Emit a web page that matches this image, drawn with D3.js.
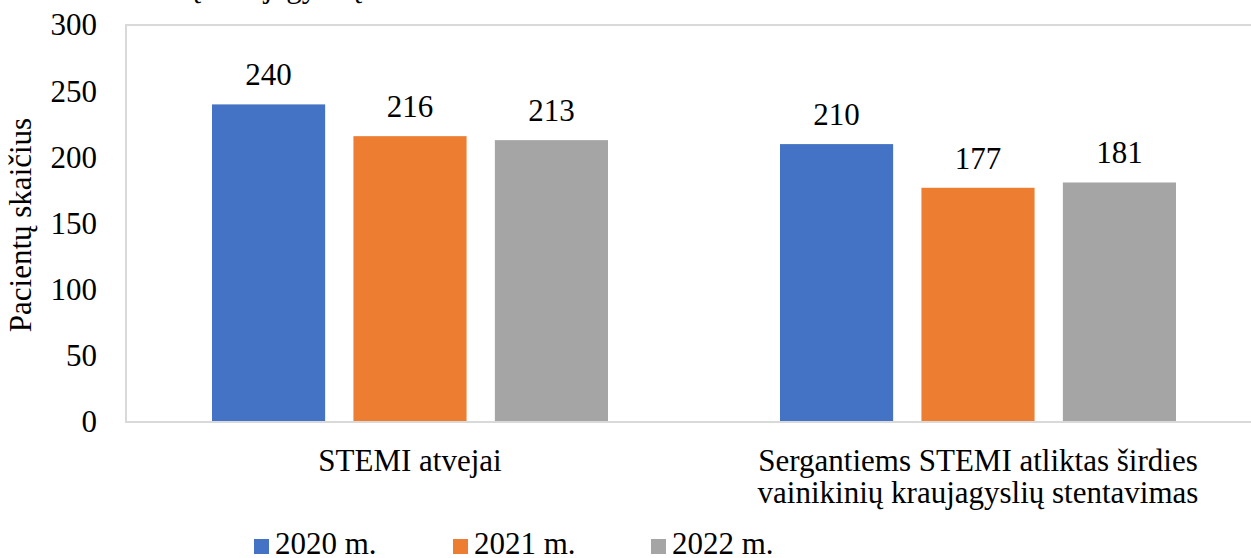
<!DOCTYPE html>
<html>
<head>
<meta charset="utf-8">
<script src="https://cdn.jsdelivr.net/npm/d3@7"></script>
<style>
  html, body { margin: 0; padding: 0; background: #fff; overflow: hidden; }
  svg { display: block; }
  text { font-family: "Liberation Serif", "Times New Roman", serif; fill: #000; }
</style>
</head>
<body>
<svg id="chart" width="1251" height="558"></svg>
<script>
const categories = [
  ["STEMI atvejai"],
  ["Sergantiems STEMI atliktas širdies", "vainikinių kraujagyslių stentavimas"]
];
const seriesNames = ["2020 m.", "2021 m.", "2022 m."];
const values2020 = [240, 210];
const values2021 = [216, 177];
const values2022 = [213, 181];
const seriesValues = [values2020, values2021, values2022];
const colors = ["#4472C4", "#ED7D31", "#A5A5A5"];
const yTicks = [0, 50, 100, 150, 200, 250, 300];
const yTitle = "Pacientų skaičius";
const cutTitle = "vainikinių kraujagyslių";

const FONT = '"Liberation Serif", "Times New Roman", serif';
const svg = d3.select("#chart");
const fs = 31;
const plot = { left: 126, top: 25, right: 1262, bottom: 422 };

const x0 = d3.scaleBand()
  .domain(d3.range(categories.length))
  .range([plot.left, plot.right])
  .padding(0);
const x1 = d3.scaleBand()
  .domain(d3.range(seriesNames.length))
  .range([86, x0.bandwidth() - 86])
  .paddingInner(0.2)
  .paddingOuter(0);
const y = d3.scaleLinear().domain([0, 300]).range([plot.bottom, plot.top]);

// cut-off text at top (previous title line, mostly outside view)
svg.append("text")
  .attr("x", 362).attr("y", -3)
  .attr("text-anchor", "end")
  .style("font-size", fs + "px")
  .text(cutTitle);

// plot border
svg.append("rect")
  .attr("x", plot.left).attr("y", plot.top)
  .attr("width", plot.right - plot.left).attr("height", plot.bottom - plot.top)
  .attr("fill", "none").attr("stroke", "#d9d9d9").attr("stroke-width", 2);

// y axis
const yAxis = d3.axisLeft(y).tickValues(yTicks).tickSize(0).tickPadding(29);
const yg = svg.append("g").attr("transform", `translate(${plot.left},0)`).call(yAxis);
yg.attr("font-family", null).attr("font-size", null);
yg.select(".domain").remove();
yg.selectAll("text")
  .style("font-size", fs + "px").attr("fill", "#000");

// y title
svg.append("text")
  .attr("transform", `translate(31,225) rotate(-90)`)
  .attr("text-anchor", "middle")
  .style("font-size", fs + "px")
  .text(yTitle);

// bars
seriesNames.forEach((s, si) => {
  const g = svg.append("g");
  g.selectAll("rect")
    .data(seriesValues[si])
    .join("rect")
    .attr("x", (d, i) => x0(i) + x1(si))
    .attr("y", d => y(d))
    .attr("width", x1.bandwidth())
    .attr("height", d => y(0) - y(d))
    .attr("fill", colors[si]);
  g.selectAll("text")
    .data(seriesValues[si])
    .join("text")
    .attr("x", (d, i) => x0(i) + x1(si) + x1.bandwidth() / 2)
    .attr("y", d => y(d) - 19)
    .attr("text-anchor", "middle")
    .style("font-size", fs + "px")
    .text(d => d);
});

// bottom axis line on top
svg.append("line")
  .attr("x1", plot.left).attr("x2", plot.right)
  .attr("y1", plot.bottom).attr("y2", plot.bottom)
  .attr("stroke", "#d9d9d9").attr("stroke-width", 2);

// category labels
categories.forEach((lines, i) => {
  const t = svg.append("text")
    .attr("text-anchor", "middle")
    .style("font-size", fs + "px");
  lines.forEach((ln, li) => {
    t.append("tspan")
      .attr("x", x0(i) + x0.bandwidth() / 2)
      .attr("y", 471 + li * 32)
      .text(ln);
  });
});

// legend
const legendX = d3.scaleOrdinal().domain(seriesNames).range([254, 453, 651]);
const lg = svg.append("g");
seriesNames.forEach((s, si) => {
  lg.append("rect")
    .attr("x", legendX(s)).attr("y", 539)
    .attr("width", 15).attr("height", 15)
    .attr("fill", colors[si]);
  lg.append("text")
    .attr("x", legendX(s) + 21).attr("y", 554)
    .style("font-size", fs + "px")
    .text(s);
});

svg.selectAll("text").style("font-family", FONT);
</script>
</body>
</html>
